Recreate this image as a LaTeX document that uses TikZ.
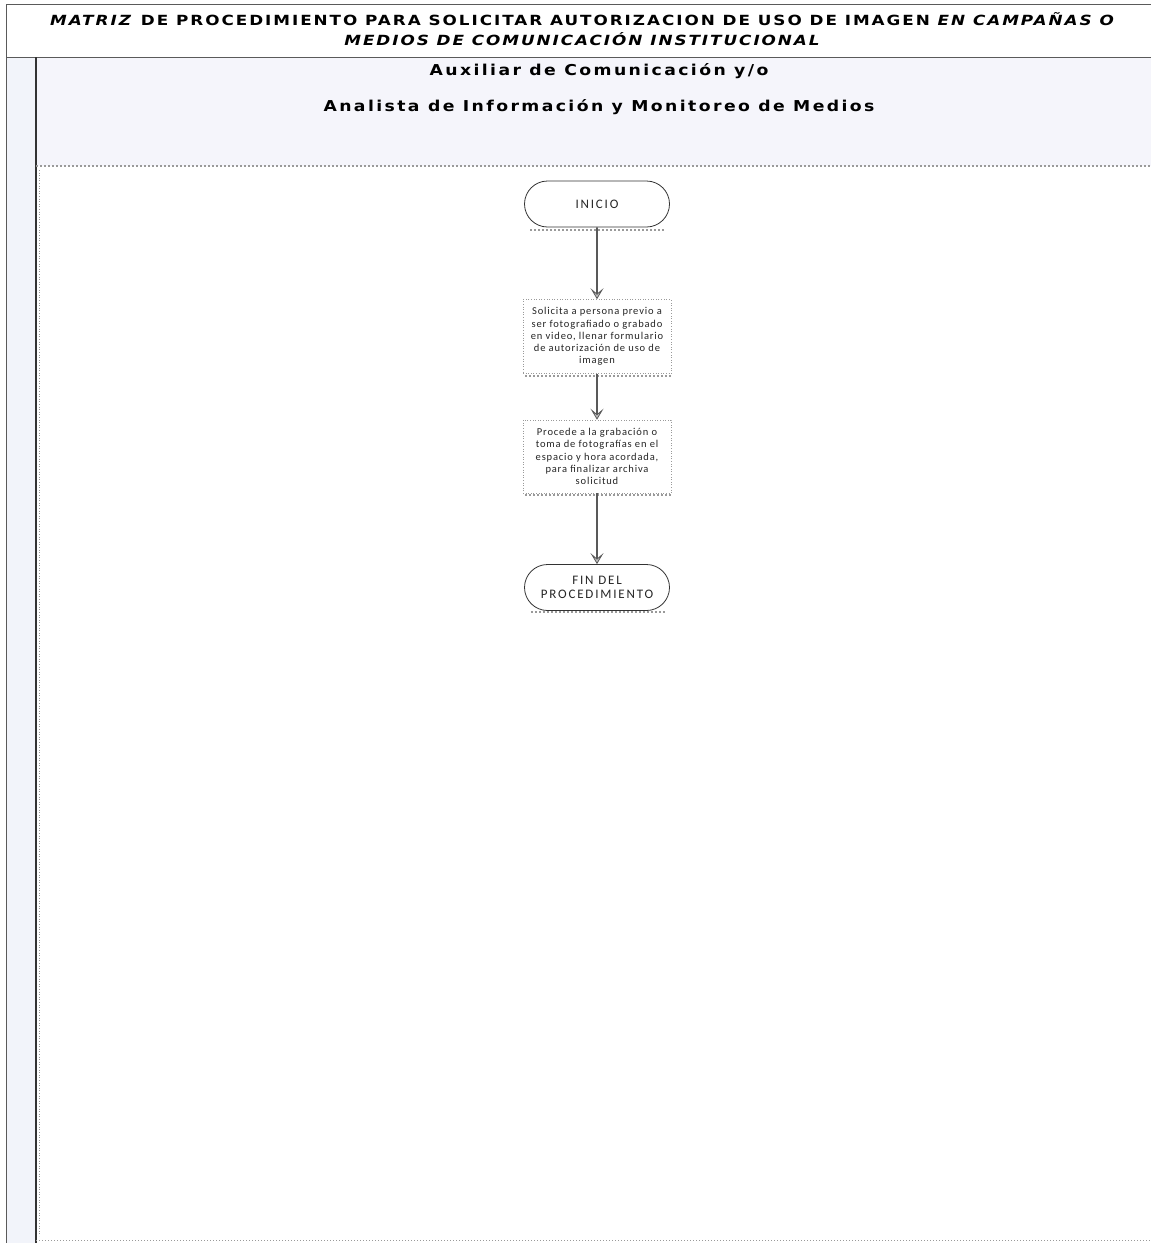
\documentclass[tikz,border=0pt]{standalone}
\usepackage{fontspec}
\setmainfont{DejaVu Sans}
\newfontfamily\boxfont{Carlito}
\newfontfamily\widefont[FakeStretch=1.2]{DejaVu Sans}
\newfontfamily\lanewide[FakeStretch=1.15]{DejaVu Sans}
\usetikzlibrary{arrows.meta,shapes.misc}
\definecolor{framegray}{HTML}{5A5A5A}
\definecolor{bandfill}{HTML}{F5F5FB}
\definecolor{colfill}{HTML}{F2F4FA}
\definecolor{shadegray}{HTML}{9A9A9A}
\tikzset{
  terminal/.style={rounded rectangle, draw=black!80, line width=0.8pt, fill=white,
    minimum width=147pt, minimum height=46pt,
    font=\boxfont\fontsize{13}{14}\selectfont\addfontfeature{LetterSpace=14},
    align=center, inner sep=1pt, text=black!85},
  task/.style={rectangle, draw=shadegray, dotted, line width=0.6pt, fill=white,
    minimum width=148pt, minimum height=74pt,
    font=\boxfont\fontsize{10.5}{12.2}\selectfont\addfontfeature{LetterSpace=8},
    align=center, inner sep=2pt, text=black!85},
  flowarrow/.style={draw=black!65, line width=1.6pt,
    -{Stealth[length=11pt,width=13pt,inset=5.5pt,fill=black!25,line width=0.8pt]}},
  shadowline/.style={draw=shadegray, dotted, line width=2pt},
  titlefont/.style={font=\widefont\fontsize{14}{16}\selectfont\bfseries\addfontfeature{LetterSpace=14}},
  lanefont/.style={font=\lanewide\fontsize{15}{17}\selectfont\bfseries\addfontfeature{LetterSpace=16}}
}
\begin{document}
\begin{tikzpicture}[x=1pt,y=-1pt]
\useasboundingbox (0,0) rectangle (1151,1243);
% page background and lane tints
\fill[white] (0,0) rectangle (1151,1243);
\fill[colfill] (6,57) rectangle (36,1243);
\fill[bandfill] (36,57) rectangle (1151,166);
% frame lines
\draw[framegray, line width=0.8pt] (6,4) -- (1151,4);
\draw[framegray, line width=0.9pt] (6,4) -- (6,1243);
\draw[framegray, line width=0.9pt] (6,57) -- (1151,57);
\draw[black!80, line width=1.1pt] (36,57) -- (36,1243);
\draw[shadegray, dotted, line width=2pt] (36,166) -- (1151,166);
\draw[shadegray, dotted, line width=1pt] (36,1240) -- (1151,1240);
\draw[shadegray, dotted, line width=0.6pt] (39,170) -- (39,1236);

% title
\node[titlefont] (title1) at (583,19) {\textit{MATRIZ} DE PROCEDIMIENTO PARA SOLICITAR AUTORIZACION DE USO DE IMAGEN \textit{EN CAMPAÑAS O}};
\node[titlefont] (title2) at (583,39) {\textit{MEDIOS DE COMUNICACIÓN INSTITUCIONAL}};

% lane header
\node[lanefont] (lane1) at (599,71) {Auxiliar de Comunicación y/o};
\node[lanefont] (lane2) at (599,107) {Analista de Información y Monitoreo de Medios};

% shadows under the shapes
\draw[shadowline] (530,230) -- (664,230);
\draw[shadowline] (525,376) -- (672,376);
\draw[shadowline] (525,495) -- (672,495);
\draw[shadowline] (531,612) -- (665,612);

% flow
\node[terminal] (inicio) at (597,204) {INICIO};
\node[task] (solicita) at (597,336.5) {Solicita a persona previo a\\ser fotografiado o grabado\\en video, llenar formulario\\de autorización de uso de\\imagen};
\node[task, minimum height=73pt] (procede) at (597,456.5) {Procede a la grabación o\\toma de fotografías en el\\espacio y hora acordada,\\para finalizar archiva\\solicitud};
\node[terminal] (fin) at (597,587.5) {FIN DEL\\PROCEDIMIENTO};

\draw[flowarrow] (inicio) -- (solicita);
\draw[flowarrow] (solicita) -- (procede);
\draw[flowarrow] (procede) -- (fin);
\end{tikzpicture}
\end{document}
